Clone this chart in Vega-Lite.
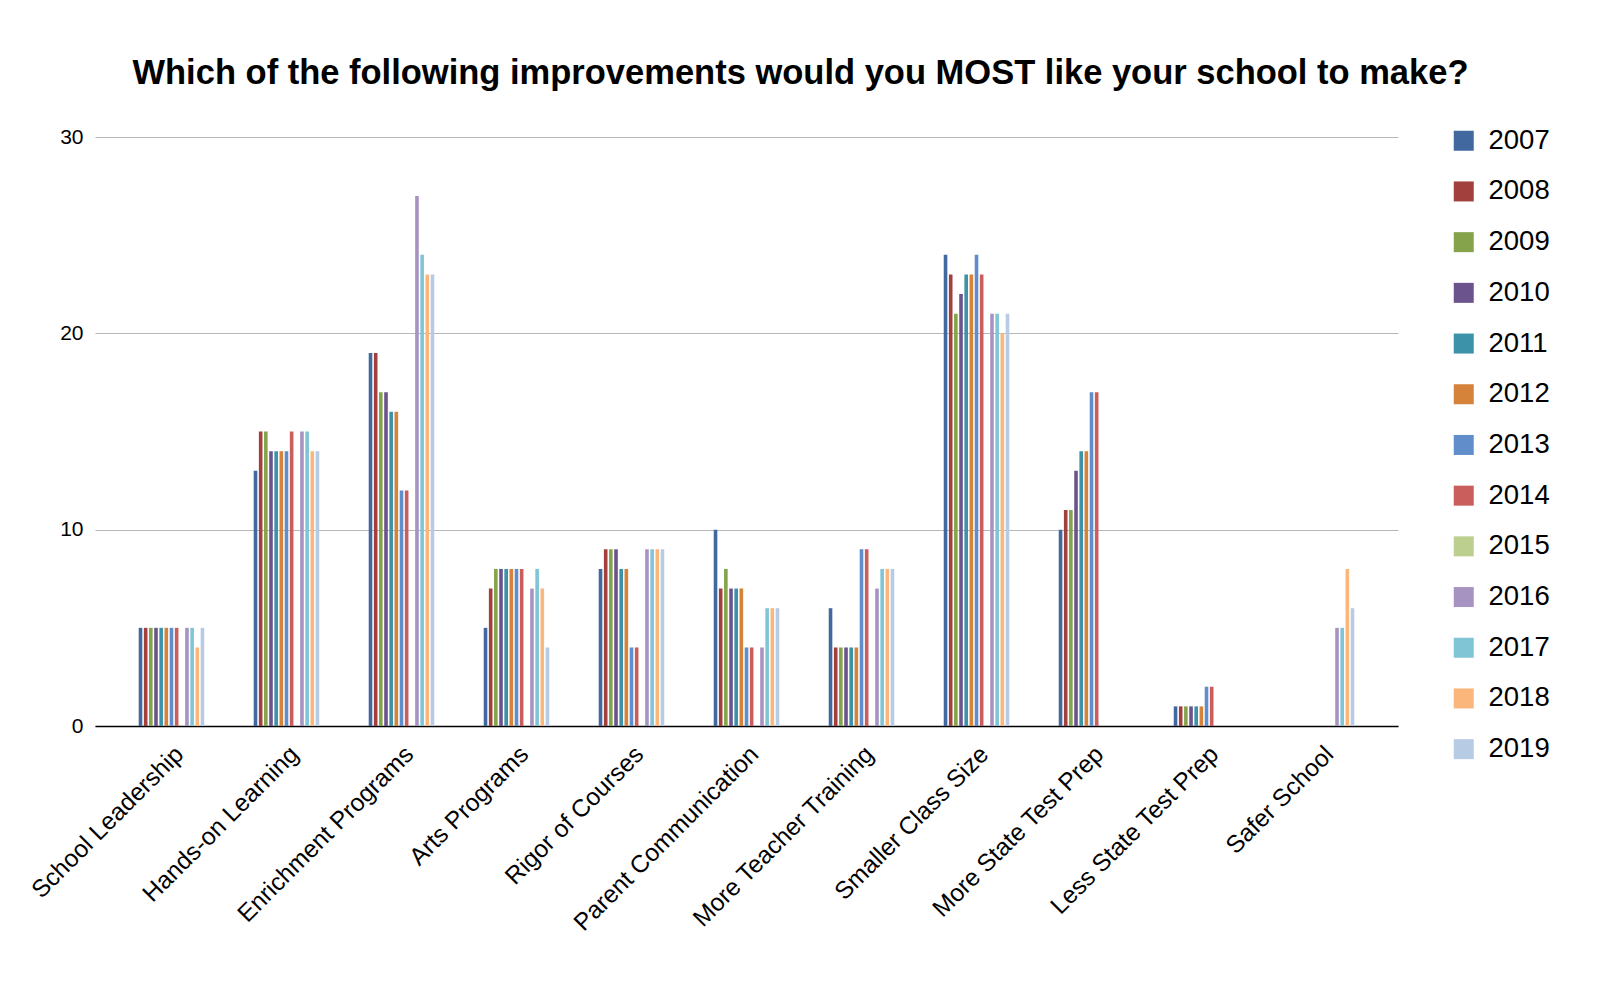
{
  "$schema": "https://vega.github.io/schema/vega-lite/v6.json",
  "width": 1303,
  "height": 589,
  "autosize": {"type": "none"},
  "padding": {"left": 95, "top": 137, "right": 202, "bottom": 266},
  "background": "white",
  "title": {
    "text": "Which of the following improvements would you MOST like your school to make?",
    "fontSize": 34.5,
    "font": "Liberation Sans",
    "fontWeight": "bold",
    "anchor": "middle",
    "dx": 54,
    "offset": 35,
    "color": "black"
  },
  "config": {"view": {"stroke": null}, "font": "Liberation Sans"},
  "data": {
    "values": [
      {"q": "School Leadership", "year": "2007", "v": 5},
      {"q": "School Leadership", "year": "2008", "v": 5},
      {"q": "School Leadership", "year": "2009", "v": 5},
      {"q": "School Leadership", "year": "2010", "v": 5},
      {"q": "School Leadership", "year": "2011", "v": 5},
      {"q": "School Leadership", "year": "2012", "v": 5},
      {"q": "School Leadership", "year": "2013", "v": 5},
      {"q": "School Leadership", "year": "2014", "v": 5},
      {"q": "School Leadership", "year": "2016", "v": 5},
      {"q": "School Leadership", "year": "2017", "v": 5},
      {"q": "School Leadership", "year": "2018", "v": 4},
      {"q": "School Leadership", "year": "2019", "v": 5},
      {"q": "Hands-on Learning", "year": "2007", "v": 13},
      {"q": "Hands-on Learning", "year": "2008", "v": 15},
      {"q": "Hands-on Learning", "year": "2009", "v": 15},
      {"q": "Hands-on Learning", "year": "2010", "v": 14},
      {"q": "Hands-on Learning", "year": "2011", "v": 14},
      {"q": "Hands-on Learning", "year": "2012", "v": 14},
      {"q": "Hands-on Learning", "year": "2013", "v": 14},
      {"q": "Hands-on Learning", "year": "2014", "v": 15},
      {"q": "Hands-on Learning", "year": "2016", "v": 15},
      {"q": "Hands-on Learning", "year": "2017", "v": 15},
      {"q": "Hands-on Learning", "year": "2018", "v": 14},
      {"q": "Hands-on Learning", "year": "2019", "v": 14},
      {"q": "Enrichment Programs", "year": "2007", "v": 19},
      {"q": "Enrichment Programs", "year": "2008", "v": 19},
      {"q": "Enrichment Programs", "year": "2009", "v": 17},
      {"q": "Enrichment Programs", "year": "2010", "v": 17},
      {"q": "Enrichment Programs", "year": "2011", "v": 16},
      {"q": "Enrichment Programs", "year": "2012", "v": 16},
      {"q": "Enrichment Programs", "year": "2013", "v": 12},
      {"q": "Enrichment Programs", "year": "2014", "v": 12},
      {"q": "Enrichment Programs", "year": "2016", "v": 27},
      {"q": "Enrichment Programs", "year": "2017", "v": 24},
      {"q": "Enrichment Programs", "year": "2018", "v": 23},
      {"q": "Enrichment Programs", "year": "2019", "v": 23},
      {"q": "Arts Programs", "year": "2007", "v": 5},
      {"q": "Arts Programs", "year": "2008", "v": 7},
      {"q": "Arts Programs", "year": "2009", "v": 8},
      {"q": "Arts Programs", "year": "2010", "v": 8},
      {"q": "Arts Programs", "year": "2011", "v": 8},
      {"q": "Arts Programs", "year": "2012", "v": 8},
      {"q": "Arts Programs", "year": "2013", "v": 8},
      {"q": "Arts Programs", "year": "2014", "v": 8},
      {"q": "Arts Programs", "year": "2016", "v": 7},
      {"q": "Arts Programs", "year": "2017", "v": 8},
      {"q": "Arts Programs", "year": "2018", "v": 7},
      {"q": "Arts Programs", "year": "2019", "v": 4},
      {"q": "Rigor of Courses", "year": "2007", "v": 8},
      {"q": "Rigor of Courses", "year": "2008", "v": 9},
      {"q": "Rigor of Courses", "year": "2009", "v": 9},
      {"q": "Rigor of Courses", "year": "2010", "v": 9},
      {"q": "Rigor of Courses", "year": "2011", "v": 8},
      {"q": "Rigor of Courses", "year": "2012", "v": 8},
      {"q": "Rigor of Courses", "year": "2013", "v": 4},
      {"q": "Rigor of Courses", "year": "2014", "v": 4},
      {"q": "Rigor of Courses", "year": "2016", "v": 9},
      {"q": "Rigor of Courses", "year": "2017", "v": 9},
      {"q": "Rigor of Courses", "year": "2018", "v": 9},
      {"q": "Rigor of Courses", "year": "2019", "v": 9},
      {"q": "Parent Communication", "year": "2007", "v": 10},
      {"q": "Parent Communication", "year": "2008", "v": 7},
      {"q": "Parent Communication", "year": "2009", "v": 8},
      {"q": "Parent Communication", "year": "2010", "v": 7},
      {"q": "Parent Communication", "year": "2011", "v": 7},
      {"q": "Parent Communication", "year": "2012", "v": 7},
      {"q": "Parent Communication", "year": "2013", "v": 4},
      {"q": "Parent Communication", "year": "2014", "v": 4},
      {"q": "Parent Communication", "year": "2016", "v": 4},
      {"q": "Parent Communication", "year": "2017", "v": 6},
      {"q": "Parent Communication", "year": "2018", "v": 6},
      {"q": "Parent Communication", "year": "2019", "v": 6},
      {"q": "More Teacher Training", "year": "2007", "v": 6},
      {"q": "More Teacher Training", "year": "2008", "v": 4},
      {"q": "More Teacher Training", "year": "2009", "v": 4},
      {"q": "More Teacher Training", "year": "2010", "v": 4},
      {"q": "More Teacher Training", "year": "2011", "v": 4},
      {"q": "More Teacher Training", "year": "2012", "v": 4},
      {"q": "More Teacher Training", "year": "2013", "v": 9},
      {"q": "More Teacher Training", "year": "2014", "v": 9},
      {"q": "More Teacher Training", "year": "2016", "v": 7},
      {"q": "More Teacher Training", "year": "2017", "v": 8},
      {"q": "More Teacher Training", "year": "2018", "v": 8},
      {"q": "More Teacher Training", "year": "2019", "v": 8},
      {"q": "Smaller Class Size", "year": "2007", "v": 24},
      {"q": "Smaller Class Size", "year": "2008", "v": 23},
      {"q": "Smaller Class Size", "year": "2009", "v": 21},
      {"q": "Smaller Class Size", "year": "2010", "v": 22},
      {"q": "Smaller Class Size", "year": "2011", "v": 23},
      {"q": "Smaller Class Size", "year": "2012", "v": 23},
      {"q": "Smaller Class Size", "year": "2013", "v": 24},
      {"q": "Smaller Class Size", "year": "2014", "v": 23},
      {"q": "Smaller Class Size", "year": "2016", "v": 21},
      {"q": "Smaller Class Size", "year": "2017", "v": 21},
      {"q": "Smaller Class Size", "year": "2018", "v": 20},
      {"q": "Smaller Class Size", "year": "2019", "v": 21},
      {"q": "More State Test Prep", "year": "2007", "v": 10},
      {"q": "More State Test Prep", "year": "2008", "v": 11},
      {"q": "More State Test Prep", "year": "2009", "v": 11},
      {"q": "More State Test Prep", "year": "2010", "v": 13},
      {"q": "More State Test Prep", "year": "2011", "v": 14},
      {"q": "More State Test Prep", "year": "2012", "v": 14},
      {"q": "More State Test Prep", "year": "2013", "v": 17},
      {"q": "More State Test Prep", "year": "2014", "v": 17},
      {"q": "Less State Test Prep", "year": "2007", "v": 1},
      {"q": "Less State Test Prep", "year": "2008", "v": 1},
      {"q": "Less State Test Prep", "year": "2009", "v": 1},
      {"q": "Less State Test Prep", "year": "2010", "v": 1},
      {"q": "Less State Test Prep", "year": "2011", "v": 1},
      {"q": "Less State Test Prep", "year": "2012", "v": 1},
      {"q": "Less State Test Prep", "year": "2013", "v": 2},
      {"q": "Less State Test Prep", "year": "2014", "v": 2},
      {"q": "Safer School", "year": "2016", "v": 5},
      {"q": "Safer School", "year": "2017", "v": 5},
      {"q": "Safer School", "year": "2018", "v": 8},
      {"q": "Safer School", "year": "2019", "v": 6}
    ]
  },
  "mark": {"type": "bar"},
  "encoding": {
    "x": {
      "field": "q",
      "type": "nominal",
      "sort": ["School Leadership", "Hands-on Learning", "Enrichment Programs", "Arts Programs", "Rigor of Courses", "Parent Communication", "More Teacher Training", "Smaller Class Size", "More State Test Prep", "Less State Test Prep", "Safer School"],
      "scale": {"paddingInner": 0.43, "paddingOuter": 0.38},
      "axis": {
        "title": null,
        "labelAngle": -45,
        "labelFontSize": 24.5,
        "labelLimit": 0,
        "labelColor": "black",
        "domainColor": "black",
        "domainWidth": 1.5,
        "ticks": false,
        "labelPadding": 16
      }
    },
    "xOffset": {
      "field": "year",
      "type": "nominal",
      "scale": {"domain": ["2007", "2008", "2009", "2010", "2011", "2012", "2013", "2014", "2015", "2016", "2017", "2018", "2019"], "paddingInner": 0.3}
    },
    "y": {
      "field": "v",
      "type": "quantitative",
      "scale": {"domain": [0, 30]},
      "axis": {
        "title": null,
        "values": [0, 10, 20, 30],
        "domain": false,
        "ticks": false,
        "labelFontSize": 21,
        "labelPadding": 12,
        "gridColor": "#b7b7b7",
        "gridWidth": 1.2,
        "labelColor": "black"
      }
    },
    "color": {
      "field": "year",
      "type": "nominal",
      "scale": {
        "domain": ["2007", "2008", "2009", "2010", "2011", "2012", "2013", "2014", "2015", "2016", "2017", "2018", "2019"],
        "range": ["#41699f", "#a1403d", "#85a34b", "#6b548e", "#3c93a9", "#d5823a", "#618ecb", "#c95e5c", "#bccf8f", "#a693c2", "#7fc5d6", "#fbb67c", "#b7cbe5"]
      },
      "legend": {
        "title": null,
        "orient": "none",
        "legendX": 1355,
        "legendY": -10,
        "symbolType": "square",
        "symbolSize": 400,
        "symbolStrokeWidth": 0,
        "labelFontSize": 27.5,
        "labelColor": "black",
        "labelOffset": 11,
        "rowPadding": 21.7,
        "padding": 0
      }
    }
  }
}
